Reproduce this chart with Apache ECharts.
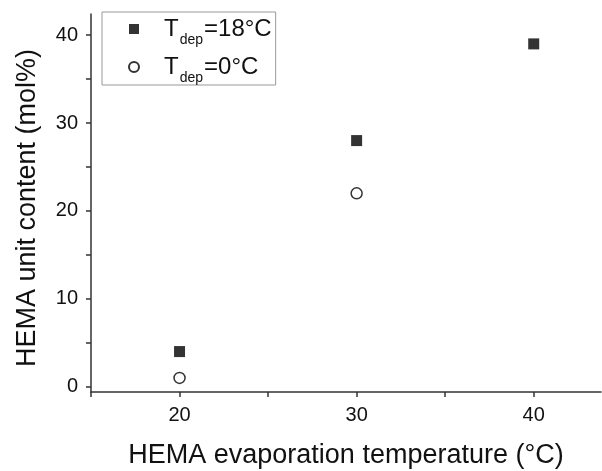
<!DOCTYPE html>
<html>
<head>
<meta charset="utf-8">
<script src="https://cdn.jsdelivr.net/npm/echarts@6/dist/echarts.min.js"></script>
<style>html,body{margin:0;padding:0;background:#fff;}#c{width:602px;height:471px;}</style>
</head>
<body>
<div id="c"></div>
<script>
// Data
var seriesNames = ['T18', 'T0'];
var xHot = [20, 30, 40];
var yHot = [4, 28, 39];
var xCold = [20, 30];
var yCold = [1, 22];
var xTickLabels = [20, 30, 40];
var xTicks = [15, 20, 25, 30, 35, 40];
var yTickLabels = [0, 10, 20, 30, 40];
var yTicks = [0, 5, 10, 15, 20, 25, 30, 35, 40];
var legendTexts = { T18: '=18°C', T0: '=0°C' };

var FONT = 'Arial, "Liberation Sans", sans-serif';
function pairs(xs, ys) { return xs.map(function (x, i) { return [x, ys[i]]; }); }

var chart = echarts.init(document.getElementById('c'));
chart.setOption({
  backgroundColor: '#fff',
  animation: false,
  textStyle: { fontFamily: FONT },
  grid: { left: 91, right: 1, top: 14, bottom: 79, outerBoundsMode: 'none', containLabel: false },
  legend: {
    orient: 'vertical',
    left: 102, top: 12,
    padding: [5, 4, 0, 26],
    itemGap: 8,
    itemWidth: 10, itemHeight: 10,
    borderColor: '#999', borderWidth: 1,
    data: [
      { name: 'T18', icon: 'rect' },
      { name: 'T0', icon: 'circle' }
    ],
    formatter: function (name) { return '{g|}{m|T}{s|dep}{m|' + legendTexts[name] + '}'; },
    textStyle: {
      fontFamily: FONT,
      rich: {
        g: { width: 20 },
        m: { fontSize: 24, color: '#111', fontFamily: FONT, lineHeight: 28 },
        s: { fontSize: 14, color: '#111', fontFamily: FONT, padding: [22, 1, 0, 1] }
      }
    }
  },
  xAxis: {
    type: 'value', min: 15, max: 43.8,
    name: 'HEMA evaporation temperature (°C)',
    nameLocation: 'middle', nameGap: 50,
    nameTextStyle: { fontSize: 27, color: '#111', fontFamily: FONT },
    axisLine: { show: true, onZero: false, lineStyle: { color: '#333', width: 1.5 } },
    axisTick: { show: true, inside: false, length: 5, customValues: xTicks, lineStyle: { color: '#333', width: 1.5 } },
    axisLabel: { customValues: xTickLabels, fontSize: 20, color: '#111', margin: 13, fontFamily: FONT },
    splitLine: { show: false }
  },
  yAxis: {
    type: 'value', min: -0.6, max: 42.4,
    name: 'HEMA unit content (mol%)',
    nameLocation: 'middle', nameGap: 50, nameRotate: 90,
    nameTextStyle: { fontSize: 27, color: '#111', fontFamily: FONT, padding: [0, 10, 0, 0] },
    axisLine: { show: true, onZero: false, lineStyle: { color: '#333', width: 1.5 } },
    axisTick: { show: true, inside: false, length: 5, customValues: yTicks, lineStyle: { color: '#333', width: 1.5 } },
    axisLabel: { customValues: yTickLabels, fontSize: 20, color: '#111', margin: 13, fontFamily: FONT },
    splitLine: { show: false }
  },
  series: [
    {
      name: 'T18', type: 'scatter', symbol: 'rect', symbolSize: 11,
      itemStyle: { color: '#000' },
      data: pairs(xHot, yHot)
    },
    {
      name: 'T0', type: 'scatter', symbol: 'circle', symbolSize: 11,
      itemStyle: { color: '#fff', borderColor: '#000', borderWidth: 1.5 },
      data: pairs(xCold, yCold)
    }
  ]
});
</script>
</body>
</html>
